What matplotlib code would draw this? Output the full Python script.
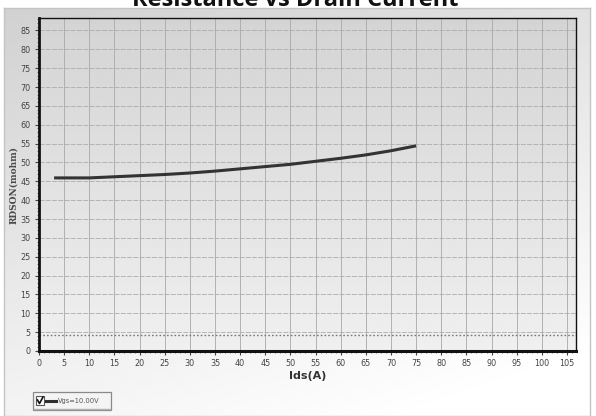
import numpy as np
import matplotlib
matplotlib.use("Agg")
import matplotlib.pyplot as plt
from matplotlib.patches import Rectangle
from matplotlib.ticker import MultipleLocator
from matplotlib.lines import Line2D

# Drain current (A) and on-resistance (mohm) at Vgs = 10 V
ids_a = [3, 10, 15, 20, 25, 30, 35, 40, 45, 50, 55, 60, 65, 70, 75]
rdson_mohm = [45.9, 45.9, 46.2, 46.5, 46.8, 47.2, 47.7, 48.3, 48.9, 49.5,
              50.3, 51.1, 52.0, 53.1, 54.4]
series_label = "Vgs=10.00V"
ref_level = 4.3

title = "Resistance vs Drain Current"
x_label = "Ids(A)"
y_label = "RDSON(mohm)"

W, H = 596, 416
fig = plt.figure(figsize=(W / 100, H / 100), dpi=100)
fig.patch.set_facecolor("white")

def fx(px):
    return px / W

def fy(py):
    return 1 - py / H

# Outer panel with a soft grey-to-white gradient
panel = fig.add_axes([fx(4), 0, fx(586), fy(8)], zorder=-10)
gy, gx = np.mgrid[0:1:200j, 0:1:200j]
grad = 0.82 + 0.18 * np.clip(0.75 * gy + 0.35 * gx, 0, 1)
panel.imshow(grad, cmap="gray", vmin=0, vmax=1, aspect="auto",
             extent=[0, 1, 0, 1], origin="upper", interpolation="bilinear")
panel.set_xlim(0, 1)
panel.set_ylim(0, 1)
for s in panel.spines.values():
    s.set_color("#c4c4c4")
    s.set_linewidth(1)
panel.set_xticks([])
panel.set_yticks([])

# Plot area
x0, x1, y0, y1 = 39, 576, 18, 351
ax = fig.add_axes([fx(x0), fy(y1), fx(x1 - x0), fy(y0) - fy(y1)])
xmax, ymax = 106.8, 88.3
ax.set_xlim(0, xmax)
ax.set_ylim(0, ymax)

vg = np.linspace(0, 1, 200)[:, None]
ax.imshow(0.83 + 0.11 * vg, cmap="gray", vmin=0, vmax=1, aspect="auto",
          extent=[0, xmax, 0, ymax], origin="upper", zorder=0,
          interpolation="bilinear")

ax.xaxis.set_major_locator(MultipleLocator(5))
ax.yaxis.set_major_locator(MultipleLocator(5))
ax.xaxis.set_minor_locator(MultipleLocator(1))
ax.yaxis.set_minor_locator(MultipleLocator(1))
ax.grid(True, axis="x", which="major", color="#a8a8a8", lw=0.6, zorder=1)
ax.grid(True, axis="y", which="major", color="#acacac", lw=0.6,
        ls=(0, (6, 1.5)), zorder=1)
ax.set_axisbelow(True)

ax.axhline(ref_level, color="#787878", lw=1.0, ls=(0, (1.2, 1.5)), zorder=2)

ax.plot(ids_a, rdson_mohm, color="#333333", lw=2.2,
        solid_capstyle="butt", zorder=3)

ax.tick_params(axis="both", which="major", direction="out", length=3,
               width=0.8, color="#444444", labelsize=6.5,
               labelcolor="#444444", pad=3)
ax.tick_params(axis="both", which="minor", direction="out", length=1.5,
               width=0.6, color="#666666")
for lab in ax.get_xticklabels() + ax.get_yticklabels():
    lab.set_fontfamily("DejaVu Sans")
    lab.set_fontstretch("condensed")

ax.spines["left"].set_linewidth(2.0)
ax.spines["bottom"].set_linewidth(2.2)
ax.spines["top"].set_linewidth(1.0)
ax.spines["right"].set_linewidth(1.0)
for s in ax.spines.values():
    s.set_color("#111111")

ax.set_xlabel(x_label, fontsize=8, fontweight="bold", color="#333333",
              labelpad=2)
ax.set_ylabel(y_label, fontsize=6.5, fontweight="bold", color="#4a4a4a",
              labelpad=2, fontfamily="DejaVu Serif")

# Title sits mostly above the canvas
fig.text(fx(295), fy(6), title, ha="center", va="baseline",
         fontsize=17, fontweight="bold", fontfamily="Open Sans",
         color="#111111")

# Series key with checkbox
leg = fig.add_axes([0, 0, 1, 1], zorder=5)
leg.set_xlim(0, W)
leg.set_ylim(H, 0)
leg.axis("off")
leg.patch.set_alpha(0)
leg.add_patch(Rectangle((33, 392), 78, 18, facecolor="#f4f4f4",
                        edgecolor="#8a8a8a", lw=0.9))
leg.add_line(Line2D([34, 110], [409, 409], color="#b0b0b0", lw=1.0))
leg.add_patch(Rectangle((36, 396), 8, 9, facecolor="white",
                        edgecolor="#555555", lw=0.8))
leg.add_line(Line2D([37.5, 39.5, 43], [400, 403.5, 397], color="#111111",
                    lw=1.2))
leg.add_line(Line2D([46, 56], [400.5, 400.5], color="#2f2f2f", lw=2.2))
leg.text(58, 401, series_label, fontsize=5.3, color="#555555",
         va="center", ha="left", fontstretch="condensed")

fig.savefig("out.png", dpi=100)
